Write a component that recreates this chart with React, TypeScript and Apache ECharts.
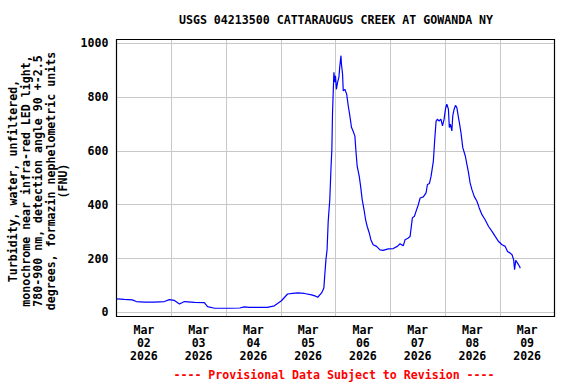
import React, { useEffect, useRef } from "react";
import * as echarts from "echarts";

const TITLE = "USGS 04213500 CATTARAUGUS CREEK AT GOWANDA NY";
const FOOTER = "---- Provisional Data Subject to Revision ----";
const Y_NAME = [
  "Turbidity, water, unfiltered,",
  "monochrome near infra-red LED light,",
  "780-900 nm, detection angle 90 +-2.5",
  "degrees, formazin nephelometric units",
  "(FNU)",
];
const DAY_LABELS = ["Mar\n02\n2026", "Mar\n03\n2026", "Mar\n04\n2026", "Mar\n05\n2026", "Mar\n06\n2026", "Mar\n07\n2026", "Mar\n08\n2026", "Mar\n09\n2026"];

// hours since 2026-03-02 00:00
const HOURS = [0, 3.4, 6.9, 8.7, 12.2, 16.6, 21, 23.2, 25.4, 27.6, 29.8, 34.2, 38.5, 39.9, 43, 49.6, 54, 56, 58.2, 62.6, 66.1, 69.2, 72.3, 75, 77.2, 79.4, 82.4, 85.5, 87.3, 88.2, 89.9, 90.9, 91.3, 91.8, 92.3, 92.8, 93.5, 94, 94.4, 94.7, 95.3, 95.7, 96, 96.4, 96.9, 97.5, 97.9, 98.4, 98.6, 99.1, 99.4, 100.1, 100.9, 101.6, 102.3, 103, 103.7, 104.5, 104.9, 105.5, 106.4, 107, 107.7, 108.5, 109.2, 109.9, 110.8, 111.5, 112.5, 114, 115.5, 116.9, 119.1, 121.3, 123.1, 124.3, 125.7, 126.5, 127.9, 128.7, 129.7, 130.6, 131.3, 132.3, 133.1, 134.5, 135.7, 136.3, 137.2, 137.9, 138.9, 139.5, 140.1, 140.7, 141.4, 142.2, 142.9, 143.6, 144.3, 144.8, 145.5, 145.9, 146.4, 147, 147.4, 148, 148.6, 149.2, 149.9, 150.3, 151, 151.8, 152.9, 153.6, 154.3, 155, 155.8, 156.8, 158, 159, 160.2, 161.6, 163.1, 164.6, 166, 167.5, 169, 170.4, 171.4, 172.6, 173.4, 174.1, 174.5, 175, 175.8, 176.7, 177];
const FNU = [50, 48, 46, 40, 38, 38, 40, 47, 44, 31, 40, 37, 36, 21, 15, 15, 16, 20, 18, 18, 18, 24, 43, 68, 70, 72, 70, 65, 60, 56, 72, 90, 139, 195, 232, 338, 419, 531, 606, 743, 892, 855, 879, 829, 855, 874, 916, 954, 923, 885, 823, 829, 811, 767, 730, 688, 674, 655, 606, 543, 506, 469, 419, 382, 344, 319, 295, 270, 251, 245, 232, 230, 236, 237, 245, 255, 247, 270, 276, 282, 351, 357, 375, 400, 425, 429, 444, 475, 479, 506, 562, 643, 711, 718, 711, 718, 693, 718, 761, 774, 755, 687, 699, 674, 730, 755, 769, 761, 724, 705, 668, 612, 581, 550, 519, 481, 456, 431, 413, 388, 363, 344, 319, 301, 282, 263, 251, 245, 226, 220, 214, 195, 158, 193, 183, 170, 164];

const FONT = "'DejaVu Sans Mono', monospace";
const FS = 11.6;

export default function App() {
  const ref = useRef<HTMLDivElement>(null);
  useEffect(() => {
    document.body.style.margin = "0";
    const chart = echarts.init(ref.current!, null, { renderer: "svg" });
    const labelStyle = { fontFamily: FONT, fontSize: FS, fontWeight: "bold" as const, color: "#000" };
    chart.setOption({
      animation: false,
      backgroundColor: "#fff",
      grid: [
        { left: 116.5, top: 39.5, width: 438, height: 277 },
        { left: 116.5, top: 43.3, width: 438, height: 269 },
      ],
      xAxis: [
        {
          type: "category", gridIndex: 0, data: DAY_LABELS, boundaryGap: true,
          axisLine: { show: false }, axisTick: { show: false },
          splitLine: { show: true, interval: 0, lineStyle: { color: "#c8c8c8", width: 1 } },
          axisLabel: { ...labelStyle, interval: 0, lineHeight: 13, margin: 7 },
        },
        { type: "value", gridIndex: 1, min: 0, max: 192, show: false },
      ],
      yAxis: [
        { type: "value", gridIndex: 0, min: 0, max: 1, show: false },
        {
          type: "value", gridIndex: 1, min: 0, max: 1000, interval: 200,
          axisLine: { show: false }, axisTick: { show: false },
          splitLine: { show: true, lineStyle: { color: "#c8c8c8", width: 1 } },
          axisLabel: { ...labelStyle, margin: 8, formatter: (v: number) => String(v) },
        },
      ],
      series: [
        {
          type: "line", xAxisIndex: 1, yAxisIndex: 1, showSymbol: false, z: 5,
          lineStyle: { color: "#0000ff", width: 1.2 },
          data: HOURS.map((h, i) => [h, FNU[i]]),
        },
      ],
      graphic: [
        { type: "rect", z: 100, shape: { x: 116.5, y: 39.5, width: 438, height: 277 }, style: { fill: "none", stroke: "#000", lineWidth: 1.2 } },
        { type: "text", x: 336, y: 20, style: { text: TITLE, fontFamily: FONT, fontSize: FS, fontWeight: "bold", fill: "#000", align: "center", verticalAlign: "middle" } },
        { type: "text", x: 334, y: 375, style: { text: FOOTER, fontFamily: FONT, fontSize: FS, fontWeight: "bold", fill: "#ff0000", align: "center", verticalAlign: "middle" } },
        { type: "text", x: 38, y: 181, rotation: Math.PI / 2, style: { text: Y_NAME.join("\n"), fontFamily: FONT, fontSize: FS, fontWeight: "bold", fill: "#000", align: "center", verticalAlign: "middle", lineHeight: 12.5 } },
      ],
    });
    return () => chart.dispose();
  }, []);
  return <div ref={ref} style={{ width: 576, height: 384 }} />;
}
